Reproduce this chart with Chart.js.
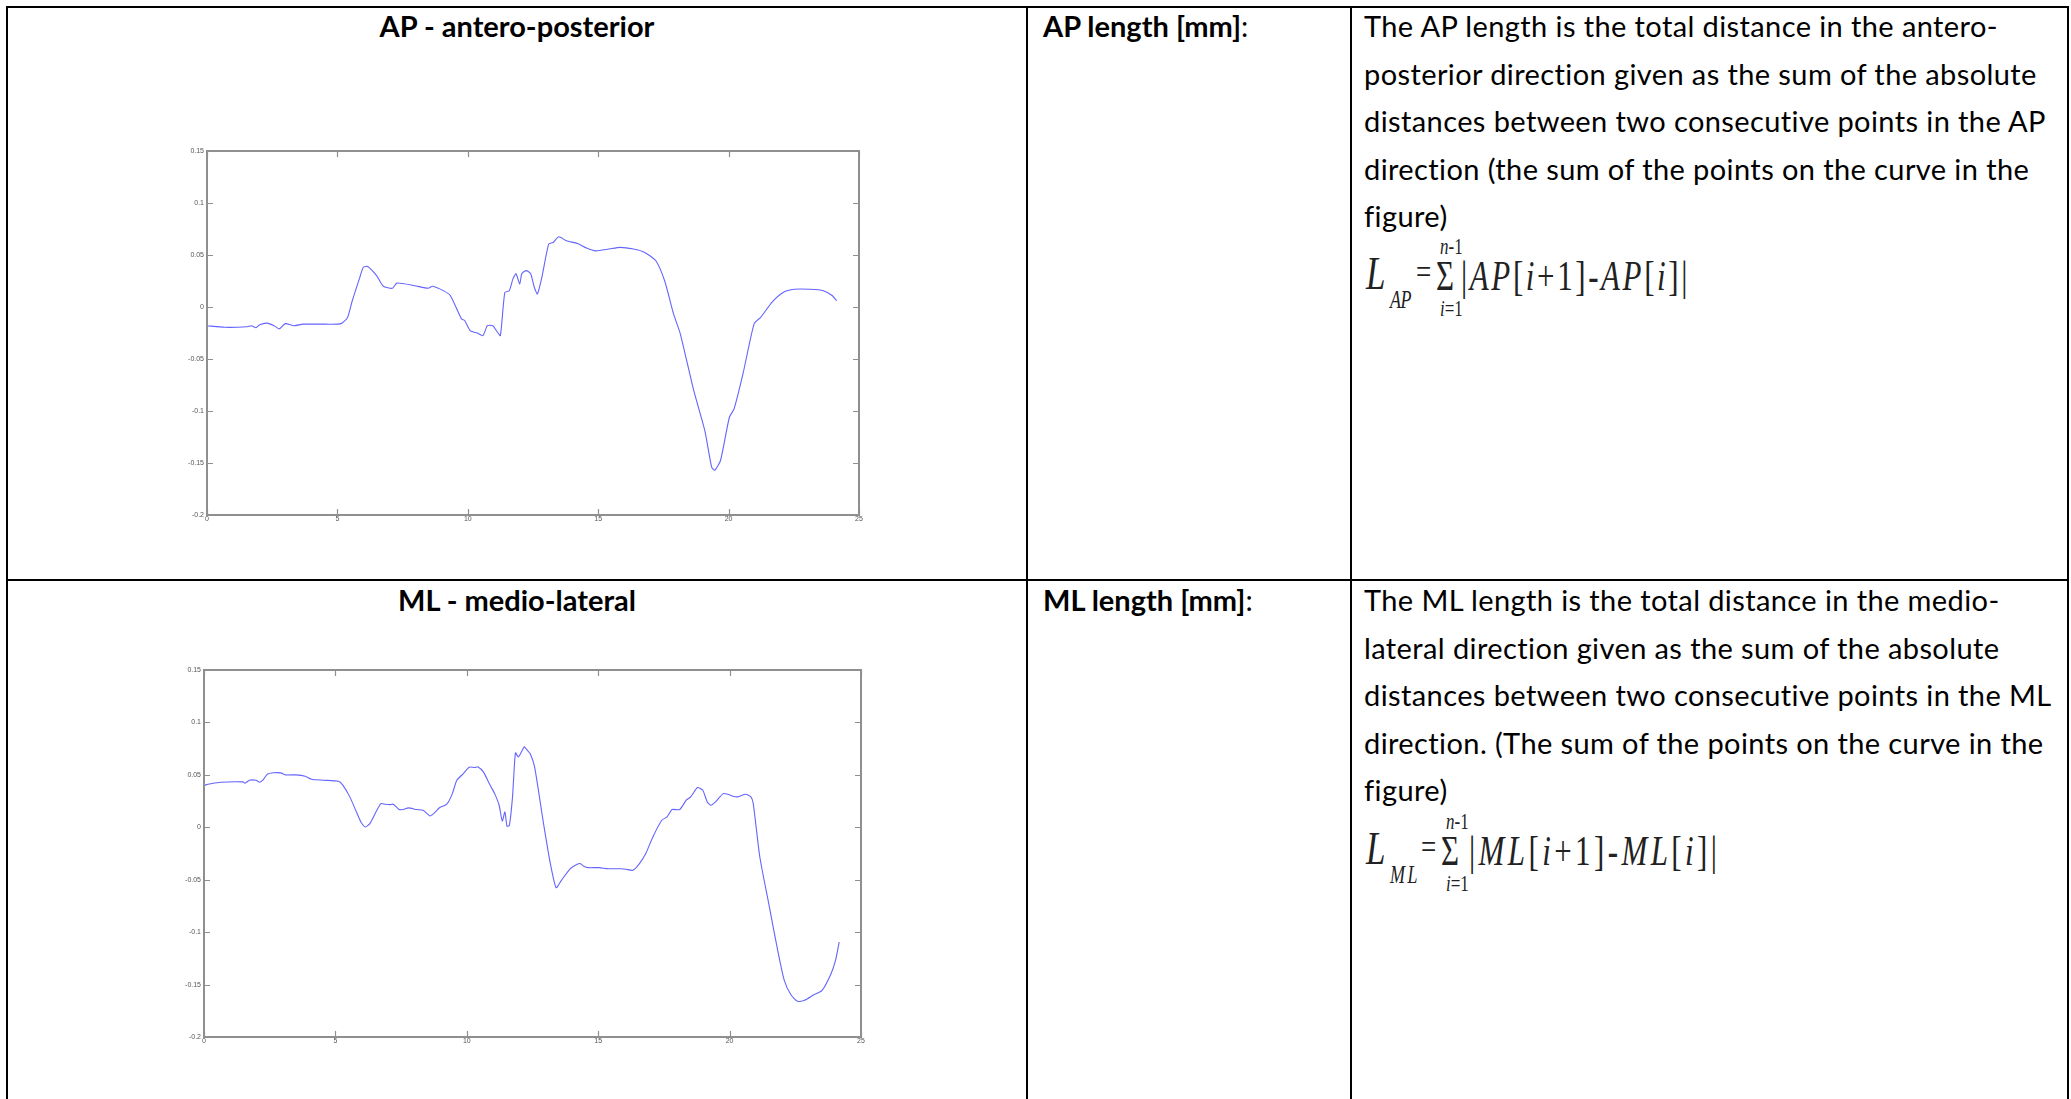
<!DOCTYPE html>
<html>
<head>
<meta charset="utf-8">
<script src="https://cdn.jsdelivr.net/npm/chart.js@4.4.1/dist/chart.umd.min.js"></script>
<style>
  body { margin:0; width:2071px; height:1099px; background:#fff; overflow:hidden; position:relative;
         font-family: Lato, "Open Sans", sans-serif; color:#000; }
  .rule { position:absolute; background:#000; }
  .txt { position:absolute; font-size:29px; line-height:47.5px; white-space:nowrap; }
  .para { letter-spacing:0.4px; }
  .title { font-weight:bold; width:1020px; text-align:center; }
  .plot { position:absolute; }
  .fbox { position:absolute; left:0; width:2071px; height:0; transform:scaleY(1.35); transform-origin:0 0; }
  .f { position:absolute; font-family:"Liberation Serif","Times New Roman",serif; white-space:nowrap; line-height:1; color:#222; }
</style>
</head>
<body>
<!-- table rules -->
<div class="rule" style="left:6px;top:6px;width:2063px;height:2px"></div>
<div class="rule" style="left:6px;top:579px;width:2063px;height:2px"></div>
<div class="rule" style="left:6px;top:6px;width:2px;height:1093px"></div>
<div class="rule" style="left:1026px;top:6px;width:2px;height:1093px"></div>
<div class="rule" style="left:1350px;top:6px;width:2px;height:1093px"></div>
<div class="rule" style="left:2067px;top:6px;width:2px;height:1093px"></div>

<div class="txt title" style="left:7px;top:2px">AP - antero-posterior</div>
<div class="txt" style="left:1043px;top:2px"><b>AP length [mm]</b>:</div>
<div class="txt para" style="left:1364px;top:2px">The AP length is the total distance in the antero-<br>posterior direction given as the sum of the absolute<br>distances between two consecutive points in the AP<br>direction (the sum of the points on the curve in the<br>figure)</div>

<div class="txt title" style="left:7px;top:576px">ML - medio-lateral</div>
<div class="txt" style="left:1043px;top:576px"><b>ML length [mm]</b>:</div>
<div class="txt para" style="left:1364px;top:576px">The ML length is the total distance in the medio-<br>lateral direction given as the sum of the absolute<br>distances between two consecutive points in the ML<br>direction. (The sum of the points on the curve in the<br>figure)</div>

<canvas id="apChart" class="plot" width="719" height="401" style="left:150px;top:130px"></canvas>
<canvas id="mlChart" class="plot" width="724" height="404" style="left:147px;top:649px"></canvas>

<script>
// AP trace (time in s, displacement)
const apX = [0, 0.68, 1.54, 1.71, 1.88, 2.02, 2.31, 2.57, 2.77, 3.0, 3.34, 3.68, 4.54, 5.14, 5.39, 5.57, 5.86, 5.99, 6.16, 6.51,
  6.76, 7.11, 7.28, 7.96, 8.48, 8.65, 9.08, 9.33, 9.76, 9.88, 10.1, 10.36, 10.58, 10.75, 10.96, 11.13, 11.25, 11.42, 11.59, 11.73,
  11.85, 11.99, 12.07, 12.24, 12.41, 12.55, 12.67, 12.84, 13.1, 13.27, 13.49, 13.78, 14.21, 14.55, 14.9, 15.41, 15.84, 16.35, 16.78, 17.21,
  17.55, 17.89, 18.15, 18.66, 19.09, 19.35, 19.47, 19.69, 20.03, 20.21, 20.55, 20.98, 21.23, 21.66, 22.09, 22.52, 23.12, 23.63, 23.97, 24.14];
const apY = [-0.018, -0.0195, -0.019, -0.018, -0.020, -0.017, -0.0155, -0.018, -0.021, -0.016, -0.018, -0.0165, -0.0165, -0.016, -0.010, 0.006, 0.0285, 0.038, 0.039, 0.030,
  0.020, 0.018, 0.023, 0.0205, 0.018, 0.020, 0.0155, 0.011, -0.0115, -0.013, -0.023, -0.025, -0.0275, -0.018, -0.018, -0.024, -0.0275, 0.014, 0.0157, 0.027,
  0.032, 0.022, 0.032, 0.035, 0.032, 0.019, 0.0125, 0.0285, 0.0605, 0.062, 0.0675, 0.0637, 0.061, 0.0567, 0.054, 0.0557, 0.0573, 0.0557, 0.0525, 0.0445,
  0.025, -0.0067, -0.026, -0.080, -0.119, -0.154, -0.157, -0.1476, -0.106, -0.098, -0.0644, -0.016, -0.010, 0.0045, 0.014, 0.017, 0.017, 0.0157, 0.011, 0.006];

// ML trace
const mlX = [0, 0.29, 0.63, 1.48, 1.56, 1.73, 1.98, 2.12, 2.24, 2.41, 2.66, 2.92, 3.09, 3.51, 3.85, 4.1, 4.53, 5.12, 5.29, 5.55,
  5.8, 5.97, 6.14, 6.31, 6.48, 6.73, 6.9, 7.07, 7.2, 7.41, 7.58, 7.78, 8.09, 8.34, 8.6, 8.77, 8.97, 9.24, 9.45, 9.62,
  9.87, 10.09, 10.3, 10.43, 10.63, 10.89, 11.06, 11.23, 11.35, 11.45, 11.53, 11.62, 11.74, 11.85, 11.96, 12.08, 12.19, 12.3, 12.41, 12.58,
  12.92, 13.18, 13.4, 13.6, 13.94, 14.2, 14.33, 14.45, 14.62, 15.04, 15.38, 15.89, 16.06, 16.32, 16.57, 16.82, 17.08, 17.42, 17.62, 17.81,
  18.1, 18.35, 18.52, 18.78, 18.98, 19.15, 19.29, 19.46, 19.76, 19.93, 20.13, 20.3, 20.61, 20.81, 20.9, 21.15, 21.49, 21.83, 22.08, 22.34,
  22.59, 22.85, 23.19, 23.52, 23.86, 24.03, 24.17];
const mlY = [0.040, 0.0417, 0.043, 0.0433, 0.042, 0.0449, 0.0449, 0.043, 0.0449, 0.0506, 0.052, 0.0519, 0.050, 0.050, 0.0487, 0.0458, 0.0449, 0.0439, 0.040, 0.029,
  0.0146, 0.0051, 0.0003, 0.0035, 0.0115, 0.0226, 0.022, 0.0216, 0.022, 0.0172, 0.0169, 0.0185, 0.0169, 0.0162, 0.0108, 0.0137, 0.0188, 0.022, 0.0321, 0.0449,
  0.0512, 0.0573, 0.057, 0.0576, 0.0528, 0.040, 0.0321, 0.021, 0.006, 0.0146, 0.001, 0.0019, 0.029, 0.071, 0.067, 0.072, 0.0767, 0.0735, 0.0703, 0.0576,
  0.0035, -0.0347, -0.0576, -0.0506, -0.0395, -0.0353, -0.0347, -0.0372, -0.0385, -0.0385, -0.0395, -0.0395, -0.040, -0.041, -0.0347, -0.0245, -0.0092, 0.0067, 0.0099, 0.0169,
  0.0169, 0.0258, 0.029, 0.0379, 0.0353, 0.0242, 0.021, 0.0242, 0.0321, 0.0315, 0.0296, 0.029, 0.0315, 0.029, 0.0226, -0.0283, -0.0729, -0.1174, -0.146, -0.160,
  -0.166, -0.165, -0.160, -0.1556, -0.1397, -0.127, -0.1094];

// axis ticks
const xTicks = [0, 5, 10, 15, 20, 25];
const yTicks = [-0.2, -0.15, -0.1, -0.05, 0, 0.05, 0.1, 0.15];
const yTickLabels = ["-0.2", "-0.15", "-0.1", "-0.05", "0", "0.05", "0.1", "0.15"];

// matlab-style box with inward tick marks
const boxTicks = {
  id: "boxTicks",
  afterDatasetsDraw(chart) {
    const { ctx, chartArea: a, scales: { x, y } } = chart;
    ctx.save();
    ctx.strokeStyle = "#8f8f8f";
    ctx.lineWidth = 2;
    ctx.strokeRect(a.left, a.top, a.right - a.left, a.bottom - a.top);
    ctx.lineWidth = 1.2;
    ctx.beginPath();
    x.ticks.forEach(t => {
      const px = Math.round(x.getPixelForValue(t.value)) + 0.5;
      ctx.moveTo(px, a.bottom); ctx.lineTo(px, a.bottom - 6);
      ctx.moveTo(px, a.top); ctx.lineTo(px, a.top + 6);
    });
    y.ticks.forEach(t => {
      const py = Math.round(y.getPixelForValue(t.value)) + 0.5;
      ctx.moveTo(a.left, py); ctx.lineTo(a.left + 6, py);
      ctx.moveTo(a.right, py); ctx.lineTo(a.right - 6, py);
    });
    ctx.stroke();
    ctx.restore();
  }
};

function drawTrace(id, xs, ys, padTop, padRight) {
  const points = xs.map((x, i) => ({ x, y: ys[i] }));
  const tickFont = { family: "Liberation Sans", size: 7 };
  return new Chart(document.getElementById(id), {
    type: "line",
    data: {
      datasets: [{
        data: points,
        borderColor: "#6464ff",
        borderWidth: 1.1,
        pointRadius: 0,
        tension: 0.2,
        fill: false
      }]
    },
    options: {
      responsive: false,
      animation: false,
      devicePixelRatio: 1,
      layout: { padding: { top: padTop, right: padRight, left: 0, bottom: 0 } },
      plugins: { legend: { display: false }, tooltip: { enabled: false } },
      scales: {
        x: {
          type: "linear", min: 0, max: 25,
          afterBuildTicks: s => { s.ticks = xTicks.map(v => ({ value: v })); },
          afterFit: s => { s.height = 16; },
          ticks: { color: "#555", font: tickFont, padding: 0, maxRotation: 0, callback: v => String(v) },
          grid: { display: false, drawTicks: false },
          border: { display: false }
        },
        y: {
          min: -0.2, max: 0.15,
          afterBuildTicks: s => { s.ticks = yTicks.map(v => ({ value: v })); },
          afterFit: s => { s.width = 57; },
          ticks: { color: "#555", font: tickFont, padding: 3, callback: (v, i) => yTickLabels[i] },
          grid: { display: false, drawTicks: false },
          border: { display: false }
        }
      }
    },
    plugins: [boxTicks]
  });
}

drawTrace("apChart", apX, apY, 21, 10);
drawTrace("mlChart", mlX, mlY, 21, 10);

// formulas: each piece placed relative to the baseline, box stretched vertically like the pasted image
function put(box, html, x, rel, size, italic, width) {
  const el = document.createElement("span");
  el.className = "f";
  el.innerHTML = html;
  el.style.left = x + "px";
  el.style.top = (rel - 0.8375 * size) + "px";
  el.style.fontSize = size + "px";
  if (italic) el.style.fontStyle = "italic";
  box.appendChild(el);
  if (width) {
    const n = el.textContent.length;
    el.style.letterSpacing = ((width - el.offsetWidth) / n) + "px";
  }
}
function formula(name, base, xs) {
  const box = document.createElement("div");
  box.className = "fbox";
  box.style.top = base + "px";
  document.body.appendChild(box);
  put(box, "L", xs.L, -2.5, 35, true);
  put(box, name, xs.sub, 11, 18, true, xs.subW);
  put(box, "=", xs.eq, -6, 27, false);
  put(box, "&Sigma;", xs.sig, -2.5, 31, false);
  put(box, "<i>n</i>-1", xs.lim, -29, 17, false);
  put(box, "<i>i</i>=1", xs.lim, 17.5, 17, false);
  put(box, "|<i>" + name + "</i>[<i>i</i>+1]-<i>" + name + "</i>[<i>i</i>]|", xs.main, -2.5, 31, false, xs.mainW);
}
formula("AP", 293, { L: 1366, sub: 1390, subW: 21, eq: 1416, sig: 1436, lim: 1440, main: 1461, mainW: 229 });
formula("ML", 868, { L: 1366, sub: 1390, subW: 30, eq: 1421, sig: 1441, lim: 1446, main: 1469, mainW: 251 });
</script>
</body>
</html>
